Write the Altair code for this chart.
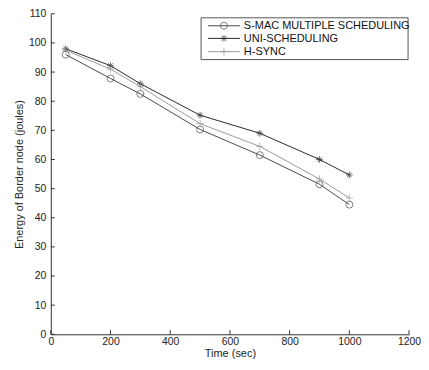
import altair as alt
import pandas as pd

time = [50, 200, 300, 500, 700, 900, 1000]
smac = [96.0, 87.8, 82.5, 70.3, 61.5, 51.5, 44.5]
uni = [98.0, 92.2, 86.0, 75.2, 69.0, 60.0, 54.7]
hsync = [97.5, 91.0, 85.0, 72.3, 64.5, 53.3, 46.8]
series_names = ["S-MAC MULTIPLE SCHEDULING", "UNI-SCHEDULING", "H-SYNC"]
x_ticks = [0, 200, 400, 600, 800, 1000, 1200]
y_ticks = list(range(0, 111, 10))

W, H = 360, 322
colors = ["#4a4a4a", "#2a2a2a", "#9a9a9a"]
star = "M-1,0L1,0M0,-1L0,1M-0.7,-0.7L0.7,0.7M-0.7,0.7L0.7,-0.7"
plus = "M-1,0L1,0M0,-1L0,1"
shapes = ["circle", star, plus]
sizes = [50, 45, 55]

rows = []
for name, vals in zip(series_names, [smac, uni, hsync]):
    for t, v in zip(time, vals):
        rows.append({"series": name, "time": t, "energy": v})
df = pd.DataFrame(rows)

xs = alt.Scale(domain=[0, 1200], nice=False)
ys = alt.Scale(domain=[0, 110], nice=False)

common = dict(tickSize=0, labelFontSize=10.5, titleFontSize=11, titleFontWeight="normal",
              grid=False, domainColor="#333", labelColor="#222", titleColor="#222",
              labelFont="Liberation Sans", titleFont="Liberation Sans",
              labelOverlap=False, format="d", labelFlush=False)
x_axis = alt.Axis(values=x_ticks, title="Time (sec)", labelPadding=2, titlePadding=1, **common)
y_axis = alt.Axis(values=y_ticks, title="Energy of Border node (joules)", labelPadding=5,
                  titlePadding=4, **common)


def X(f):
    return alt.X(f, scale=xs, axis=x_axis)


def Y(f):
    return alt.Y(f, scale=ys, axis=y_axis)


layers = []

# inward ticks
xt = pd.DataFrame({"v": x_ticks})
yt = pd.DataFrame({"v": y_ticks})
layers.append(alt.Chart(xt).mark_rule(color="#333", strokeWidth=1).encode(
    x=X("v:Q"), y=alt.value(H), y2=alt.value(H - 4)))
layers.append(alt.Chart(yt).mark_rule(color="#333", strokeWidth=1).encode(
    y=Y("v:Q"), x=alt.value(0), x2=alt.value(4)))

for i, name in enumerate(series_names):
    d = df[df.series == name]
    layers.append(alt.Chart(d).mark_line(color=colors[i], strokeWidth=1).encode(
        x=X("time:Q"), y=Y("energy:Q")))
    layers.append(alt.Chart(d).mark_point(color=colors[i], shape=shapes[i], size=sizes[i],
                                          filled=False, strokeWidth=1).encode(
        x=X("time:Q"), y=Y("energy:Q")))

# legend box
lx0, lx1, ly0, ly1 = 151, 359, 4, 46
row_ys = [12, 24.7, 38]
layers.append(alt.Chart(pd.DataFrame({"a": [0]})).mark_rect(
    fill="white", stroke="#555", strokeWidth=1).encode(
    x=alt.value(lx0), x2=alt.value(lx1), y=alt.value(ly0), y2=alt.value(ly1)))
for i, name in enumerate(series_names):
    yy = row_ys[i]
    one = pd.DataFrame({"series": [name]})
    layers.append(alt.Chart(one).mark_rule(color=colors[i], strokeWidth=1).encode(
        x=alt.value(lx0 + 7), x2=alt.value(lx0 + 39), y=alt.value(yy)))
    layers.append(alt.Chart(one).mark_point(color=colors[i], shape=shapes[i], size=sizes[i],
                                            filled=False, strokeWidth=1).encode(
        x=alt.value(lx0 + 23), y=alt.value(yy)))
    layers.append(alt.Chart(one).mark_text(align="left", baseline="middle", fontSize=11,
                                           font="Liberation Sans", color="#111").encode(
        x=alt.value(lx0 + 43), y=alt.value(yy + 0.5), text="series:N"))

chart = alt.layer(*layers).properties(
    width=W, height=H,
    padding={"left": 5, "top": 0, "right": 0, "bottom": 0},
).configure_view(stroke=None)
chart.save("out.html", embed_options={"renderer": "svg", "actions": False})
